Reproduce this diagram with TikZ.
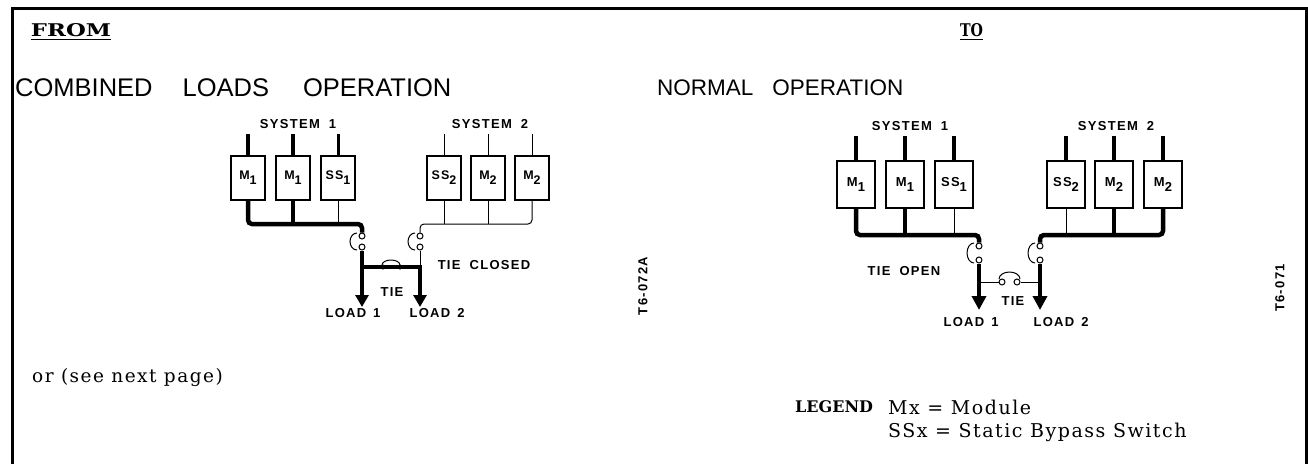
\documentclass[tikz,border=0pt]{standalone}
\usepackage{fontspec}
\usetikzlibrary{arrows.meta}
\setmainfont{DejaVu Serif}
\newfontfamily\lblfont{Liberation Sans Bold}[LetterSpace=10]
\newfontfamily\ttlfont{Liberation Sans}
\newfontfamily\serfont{DejaVu Serif}[LetterSpace=8]
\newfontfamily\serbfont{DejaVu Serif Bold}
\newcommand\vswitch[4]{%
  \node[swc] (#1a) at (#2,#3) {};
  \node[swc] (#1b) at (#2,#4) {};
  \draw[thinw] (#2-5,#3-3) arc[start angle=270,end angle=90,x radius=7,y radius={(#4-#3+6)/2}];
}
\newcommand\sub[1]{\raisebox{-5pt}{#1}}
\begin{document}
\begin{tikzpicture}[x=1pt,y=-1pt,
  thickw/.style={line width=4.5pt},
  medw/.style={line width=3pt},
  thinw/.style={line width=1pt},
  boxa/.style={draw, line width=1.5pt, minimum width=34pt, minimum height=44pt, inner sep=0pt,
    font=\lblfont\fontsize{12.5}{13}\selectfont},
  boxb/.style={boxa, minimum width=38pt, minimum height=47pt, font=\lblfont\fontsize{13}{13}\selectfont},
  lbl/.style={font=\lblfont\fontsize{13}{13}\selectfont, inner sep=0pt},
  ttla/.style={font=\ttlfont\fontsize{25.5}{28}\selectfont, inner sep=0pt, anchor=west},
  ttlb/.style={font=\ttlfont\fontsize{22.5}{28}\selectfont, inner sep=0pt, anchor=west},
  swc/.style={draw, circle, line width=1pt, minimum size=6pt, inner sep=0pt, fill=white},
  dotc/.style={fill, circle, minimum size=5pt, inner sep=0pt},
  loada/.style={line width=4.5pt, -{Triangle[width=13pt,length=12pt]}},
  loadb/.style={line width=4.5pt, -{Triangle[width=14pt,length=14pt]}},
  sertxt/.style={font=\serfont\fontsize{19}{22}\selectfont, inner sep=0pt, anchor=west}
]
\useasboundingbox (0,0) rectangle (1308,464);
% frame
\draw[line width=3pt] (12,464) -- (12,8) -- (1306,8) -- (1306,464);

% headings
\node[font=\serbfont, inner sep=0pt] (from) at (71,30) {\resizebox{80pt}{13pt}{FROM}};
\draw[line width=1.3pt] (from.south west)++(0,2.5) -- ++(80,0);
\node[font=\serbfont, inner sep=0pt] (to) at (971.5,30) {\resizebox{23pt}{13pt}{TO}};
\draw[line width=1.3pt] (to.south west)++(0,2.5) -- ++(23,0);
\node[ttla] (t1) at (15,88) {COMBINED\hspace{30pt}LOADS\hspace{34pt}OPERATION};
\node[ttlb] (t2) at (657,88) {NORMAL\hspace{19pt}OPERATION};

% ===== left diagram (combined loads) =====
\node[lbl] (sy1) at (298,124) {SYSTEM\hspace{9pt}1};
\node[lbl] (sy2) at (490,124) {SYSTEM\hspace{9pt}2};
\node[boxa] (am1) at (248,178) {M\sub{1}};
\node[boxa] (am2) at (293,178) {M\sub{1}};
\node[boxa] (as1) at (338,178) {SS\sub{1}};
\node[boxa] (as2) at (444,178) {SS\sub{2}};
\node[boxa] (am3) at (488,178) {M\sub{2}};
\node[boxa] (am4) at (532,178) {M\sub{2}};
\draw[thickw] (am1.north) -- +(0,-21);
\draw[thickw] (am2.north) -- +(0,-21);
\draw[medw] (as1.north) -- +(0,-21);
\draw[thinw] (as2.north) -- +(0,-21);
\draw[thinw] (am3.north) -- +(0,-21);
\draw[thinw] (am4.north) -- +(0,-21);
\vswitch{asw1}{362}{236}{247}
\vswitch{asw2}{420}{236}{247}
\coordinate (abus1) at (362,224);
\coordinate (abus2) at (420,224);
\coordinate (atieL) at (362,267);
\coordinate (atieR) at (420,267);
\coordinate (ald1) at (362,307);
\coordinate (ald2) at (420,307);
\draw[thickw, rounded corners=4pt] (am1.south) -- (am1.south |- abus1) -- (abus1) -- (asw1a.north);
\draw[thickw] (am2.south) -- (am2.south |- abus1);
\draw[thinw] (as1.south) -- (as1.south |- abus1);
\draw[thinw, rounded corners=4pt] (am4.south) -- (am4.south |- abus2) -- (abus2) -- (asw2a.north);
\draw[thinw] (as2.south) -- (as2.south |- abus2);
\draw[thinw] (am3.south) -- (am3.south |- abus2);
\draw[loada] (asw1b.south) -- (ald1);
\draw[thinw] (asw2b.south) -- (atieR);
\draw[loada] ([yshift=-2pt]atieR) -- (ald2);
\draw[thickw] ([xshift=-2.25pt]atieL) -- ([xshift=2.25pt]atieR);
\node[dotc] (atc1) at (383,267) {};
\node[dotc] (atc2) at (400,267) {};
\draw[thinw] (382,265) arc[start angle=180,end angle=360,x radius=9,y radius=5];
\node[lbl] (atie) at (392,292) {TIE};
\node[lbl] (al1) at (353,313) {LOAD\hspace{7pt}1};
\node[lbl] (al2) at (437,313) {LOAD\hspace{7pt}2};
\node[lbl] (atc) at (484,265) {TIE\hspace{9pt}CLOSED};
\node[lbl, rotate=90] (tag1) at (643,286) {T6-072A};

% ===== right diagram (normal) =====
\node[lbl] (by1) at (910,126) {SYSTEM\hspace{9pt}1};
\node[lbl] (by2) at (1116,126) {SYSTEM\hspace{9pt}2};
\node[boxb] (bm1) at (856,184.5) {M\sub{1}};
\node[boxb] (bm2) at (905,184.5) {M\sub{1}};
\node[boxb] (bs1) at (954,184.5) {SS\sub{1}};
\node[boxb] (bs2) at (1066,184.5) {SS\sub{2}};
\node[boxb] (bm3) at (1114,184.5) {M\sub{2}};
\node[boxb] (bm4) at (1163,184.5) {M\sub{2}};
\foreach \n in {bm1,bm2,bs1,bs2,bm3,bm4} {\draw[line width=4pt] (\n.north) -- +(0,-24);}
\vswitch{bsw1}{979}{246}{260}
\vswitch{bsw2}{1040}{246}{260}
\coordinate (bbus1) at (979,235);
\coordinate (bbus2) at (1040,235);
\coordinate (bld1) at (979,310);
\coordinate (bld2) at (1040,310);
\coordinate (btieL) at (979,282);
\coordinate (btieR) at (1040,282);
\draw[thickw, rounded corners=4pt] (bm1.south) -- (bm1.south |- bbus1) -- (bbus1) -- (bsw1a.north);
\draw[thickw] (bm2.south) -- (bm2.south |- bbus1);
\draw[thinw] (bs1.south) -- (bs1.south |- bbus1);
\draw[thickw, rounded corners=4pt] (bm4.south) -- (bm4.south |- bbus2) -- (bbus2) -- (bsw2a.north);
\draw[thickw] (bm3.south) -- (bm3.south |- bbus2);
\draw[thinw] (bs2.south) -- (bs2.south |- bbus2);
\draw[loadb] (bsw1b.south) -- (bld1);
\draw[loadb] (bsw2b.south) -- (bld2);
\node[swc] (btc1) at (1002,282) {};
\node[swc] (btc2) at (1017,282) {};
\draw[thinw] (btieL) -- (btc1);
\draw[thinw] (btc2) -- (btieR);
\draw[thinw] (999,279) arc[start angle=180,end angle=360,x radius=10.5,y radius=7];
\node[lbl] (bto) at (904,271) {TIE\hspace{9pt}OPEN};
\node[lbl] (btie) at (1013,301) {TIE};
\node[lbl] (bl1) at (971,322) {LOAD\hspace{7pt}1};
\node[lbl] (bl2) at (1061,322) {LOAD\hspace{7pt}2};
\node[lbl, rotate=90] (tag2) at (1280,288) {T6-071};

% ===== bottom texts =====
\node[font=\serfont\fontsize{18.5}{22}\selectfont, inner sep=0pt, anchor=west] (orn) at (32,378) {or (see next page)};
\node[font=\serbfont\fontsize{16}{20}\selectfont, inner sep=0pt, anchor=west] (leg) at (795,407) {LEGEND};
\node[sertxt] (lg1) at (888,407) {Mx = Module};
\node[sertxt] (lg2) at (888,432) {SSx = Static Bypass Switch};
\end{tikzpicture}
\end{document}
